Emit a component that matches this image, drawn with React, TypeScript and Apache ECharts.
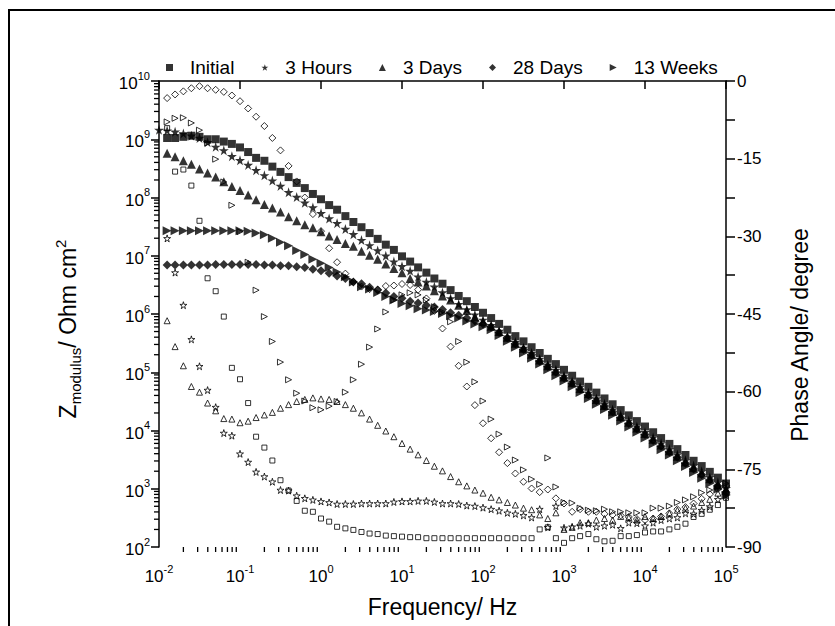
import React, { useEffect, useRef } from "react";
import * as echarts from "echarts";

// Frequencies (Hz), 10 points per decade
const freq = [
  0.01, 0.0126, 0.0158, 0.02, 0.0251, 0.0316, 0.0398, 0.0501, 0.0631, 0.0794,
  0.1, 0.126, 0.158, 0.2, 0.251, 0.316, 0.398, 0.501, 0.631, 0.794,
  1, 1.26, 1.58, 2, 2.51, 3.16, 3.98, 5.01, 6.31, 7.94,
  10, 12.6, 15.8, 20, 25.1, 31.6, 39.8, 50.1, 63.1, 79.4,
  100, 126, 158, 200, 251, 316, 398, 501, 631, 794,
  1000, 1260, 1580, 2000, 2510, 3160, 3980, 5010, 6310, 7940,
  10000, 12600, 15800, 20000, 25100, 31600, 39800, 50100, 63100, 79400, 100000,
];

const legendNames = ["Initial", "3 Hours", "3 Days", "28 Days", "13 Weeks"];

// |Z| (Ohm cm2)
const zInitial = [
  null, 1.05e9, 1.05e9, 1.1e9, 1.15e9, 1.1e9, 1.0e9, 1.0e9, 9.12e8, 8.32e8,
  7.24e8, 6.03e8, 4.79e8, 4.27e8, 3.39e8, 2.75e8, 2.24e8, 1.78e8, 1.45e8, 1.15e8,
  9.33e7, 7.41e7, 6.17e7, 4.79e7, 3.8e7, 3.09e7, 2.45e7, 1.95e7, 1.55e7, 1.26e7,
  9.77e6, 7.94e6, 6.31e6, 5.13e6, 4.07e6, 3.31e6, 2.57e6, 2.04e6, 1.66e6, 1.32e6,
  1.05e6, 8.51e5, 6.76e5, 5.37e5, 4.17e5, 3.39e5, 2.69e5, 2.14e5, 1.7e5, 1.38e5,
  1.1e5, 8.71e4, 6.92e4, 5.62e4, 4.47e4, 3.55e4, 2.82e4, 2.24e4, 1.82e4, 1.45e4,
  1.17e4, 9.33e3, 7.41e3, 5.89e3, 4.79e3, 3.8e3, 3.02e3, 2.45e3, 1.95e3, 1.55e3, 1.23e3,
];
const z3Hours = [
  1.45e9, 1.41e9, 1.35e9, 1.26e9, 1.15e9, 1.05e9, 8.91e8, 7.41e8, 6.46e8, 5.13e8,
  4.37e8, 3.63e8, 2.95e8, 2.4e8, 1.95e8, 1.58e8, 1.23e8, 1.02e8, 8.13e7, 6.76e7,
  5.37e7, 4.37e7, 3.63e7, 2.88e7, 2.34e7, 1.86e7, 1.51e7, 1.23e7, 1.0e7, 7.94e6,
  6.61e6, 5.5e6, 4.37e6, 3.55e6, 2.95e6, 2.34e6, 1.86e6, 1.48e6, 1.2e6, 9.77e5,
  7.94e5, 6.46e5, 5.13e5, 4.07e5, 3.31e5, 2.63e5, 2.14e5, 1.7e5, 1.35e5, 1.1e5,
  8.71e4, 6.92e4, 5.62e4, 4.47e4, 3.55e4, 2.88e4, 2.29e4, 1.86e4, 1.48e4, 1.17e4,
  9.33e3, 7.59e3, 6.03e3, 4.79e3, 3.89e3, 3.09e3, 2.51e3, 2.0e3, 1.58e3, 1.29e3, 1.02e3,
];
const z3Days = [
  null, 5.75e8, 5.01e8, 4.27e8, 3.72e8, 3.09e8, 2.63e8, 2.24e8, 1.86e8, 1.55e8,
  1.32e8, 1.1e8, 9.12e7, 7.59e7, 6.61e7, 5.62e7, 4.68e7, 3.98e7, 3.39e7, 3.02e7,
  2.57e7, 2.19e7, 1.91e7, 1.62e7, 1.45e7, 1.2e7, 1.02e7, 8.71e6, 7.24e6, 6.03e6,
  5.13e6, 4.07e6, 3.55e6, 3.02e6, 2.51e6, 2.04e6, 1.74e6, 1.41e6, 1.15e6, 8.91e5,
  7.41e5, 6.17e5, 5.01e5, 3.98e5, 3.16e5, 2.57e5, 2.04e5, 1.62e5, 1.29e5, 1.05e5,
  8.32e4, 6.61e4, 5.25e4, 4.27e4, 3.39e4, 2.69e4, 2.14e4, 1.74e4, 1.38e4, 1.1e4,
  8.91e3, 7.08e3, 5.62e3, 4.47e3, 3.63e3, 2.88e3, 2.29e3, 1.86e3, 1.48e3, 1.17e3, 9.55e2,
];
const z28Days = [
  null, 6.92e6, 6.92e6, 6.92e6, 6.92e6, 6.92e6, 6.92e6, 7.08e6, 7.08e6, 7.08e6,
  7.08e6, 7.08e6, 7.08e6, 6.92e6, 6.92e6, 6.76e6, 6.76e6, 6.46e6, 6.31e6, 5.89e6,
  5.5e6, 5.01e6, 4.47e6, 4.07e6, 3.55e6, 3.31e6, 2.88e6, 2.57e6, 2.29e6, 2.0e6,
  1.86e6, 1.66e6, 1.55e6, 1.41e6, 1.32e6, 1.2e6, 1.05e6, 9.55e5, 8.51e5, 7.59e5,
  6.76e5, 6.03e5, 4.79e5, 3.89e5, 3.09e5, 2.45e5, 2.0e5, 1.55e5, 1.26e5, 1.0e5,
  7.94e4, 6.46e4, 5.13e4, 4.07e4, 3.24e4, 2.63e4, 2.09e4, 1.66e4, 1.32e4, 1.07e4,
  8.51e3, 6.76e3, 5.37e3, 4.27e3, 3.47e3, 2.75e3, 2.19e3, 1.74e3, 1.41e3, 1.12e3, 8.71e2,
];
const z13Weeks = [
  null, 2.69e7, 2.69e7, 2.69e7, 2.69e7, 2.69e7, 2.69e7, 2.69e7, 2.69e7, 2.69e7,
  2.69e7, 2.63e7, 2.45e7, 2.29e7, 2.0e7, 1.7e7, 1.48e7, 1.23e7, 1.05e7, 8.71e6,
  7.41e6, 6.31e6, 5.25e6, 4.37e6, 3.55e6, 2.95e6, 2.69e6, 2.34e6, 2.0e6, 1.74e6,
  1.51e6, 1.38e6, 1.23e6, 1.17e6, 1.1e6, 1.02e6, 9.33e5, 8.51e5, 7.59e5, 6.76e5,
  6.03e5, 5.37e5, 4.27e5, 3.39e5, 2.69e5, 2.14e5, 1.74e5, 1.38e5, 1.1e5, 8.71e4,
  7.08e4, 5.62e4, 4.47e4, 3.55e4, 2.82e4, 2.29e4, 1.82e4, 1.45e4, 1.15e4, 9.33e3,
  7.41e3, 5.89e3, 4.68e3, 3.8e3, 3.02e3, 2.4e3, 1.91e3, 1.51e3, 1.23e3, 9.77e2, 7.76e2,
];

// Phase angle (degree)
const pInitial = [
  null, -9.1, -17.5, -17.1, -20.2, -27.0, -38.1, -40.6, -45.5, -55.4,
  -57.6, -62.2, -68.7, -70.8, -73.3, -77.1, -79.1, -81.1, -83.0, -83.2,
  -84.5, -85.1, -86.1, -86.4, -86.7, -87.1, -87.4, -87.5, -87.8, -87.9,
  -88.0, -88.1, -88.1, -88.3, -88.3, -88.3, -88.3, -88.3, -88.3, -88.3,
  -88.3, -88.3, -88.3, -88.3, -88.3, -88.3, -88.3, -86.6, -86.2, -88.3,
  -89.2, -88.3, -87.9, -87.5, -88.5, -88.9, -88.8, -87.9, -87.9, -87.7,
  -87.2, -87.0, -87.0, -86.6, -86.1, -85.5, -84.2, -83.6, -82.8, -81.9, -80.5,
];
const p3Hours = [
  null, -30.4, -37.0, -43.3, -49.9, -55.1, -59.7, -63.0, -68.0, -68.5,
  -72.0, -73.6, -75.5, -76.4, -77.4, -79.0, -79.1, -80.1, -80.6, -80.9,
  -81.2, -81.4, -81.7, -81.7, -81.7, -81.6, -81.6, -81.6, -81.6, -81.3,
  -81.2, -81.2, -81.1, -81.1, -81.3, -81.6, -81.6, -81.7, -82.0, -82.1,
  -82.4, -82.7, -83.0, -83.4, -83.6, -83.9, -84.3, -82.7, -86.2, -82.1,
  -86.3, -86.1, -85.9, -85.5, -86.1, -85.9, -85.7, -86.4, -85.3, -85.4,
  -85.9, -85.3, -84.8, -84.5, -84.3, -83.5, -83.6, -82.9, -82.2, -80.8, -80.0,
];
const p3Days = [
  null, -46.3, -51.3, -55.0, -59.0, -60.1, -62.2, -63.7, -65.2, -65.3,
  -66.0, -65.7, -65.0, -64.5, -64.0, -63.2, -62.5, -61.9, -61.5, -61.2,
  -61.4, -61.5, -61.9, -62.5, -63.2, -64.1, -65.3, -66.5, -67.6, -68.7,
  -70.0, -71.1, -72.2, -73.3, -74.4, -75.3, -76.4, -77.4, -78.2, -79.0,
  -79.6, -80.4, -80.9, -81.4, -81.9, -82.5, -82.8, -83.8, -84.5, -83.4,
  -86.6, -86.2, -85.3, -85.3, -84.8, -84.5, -84.8, -84.1, -84.3, -84.8,
  -84.1, -84.5, -84.1, -83.5, -82.9, -82.5, -82.1, -81.4, -80.8, -79.6, -78.7,
];
const p28Days = [
  null, -3.3, -2.6, -2.0, -1.4, -1.0, -1.4, -1.7, -2.1, -2.8,
  -3.9, -5.3, -6.9, -8.7, -11.0, -13.4, -16.4, -19.4, -22.5, -25.7,
  -29.0, -32.3, -35.0, -37.2, -38.8, -39.7, -40.2, -40.3, -39.6, -39.5,
  -39.2, -39.4, -40.3, -42.0, -44.4, -47.8, -51.3, -55.0, -59.0, -62.6,
  -66.1, -69.0, -71.7, -73.8, -75.8, -77.4, -78.7, -79.4, -78.9, -80.6,
  -81.6, -83.2, -82.7, -83.2, -83.2, -83.6, -83.8, -83.9, -84.2, -84.6,
  -84.8, -84.5, -84.1, -83.5, -82.7, -82.3, -81.6, -80.7, -79.8, -78.8, -78.2,
];
const p13Weeks = [
  null, -7.9, -7.2, -7.1, -8.1, -9.5, -12.0, -15.1, -19.5, -24.0,
  -29.1, -35.0, -40.4, -45.5, -50.3, -54.3, -57.7, -60.3, -61.8, -63.1,
  -63.5, -62.8, -61.9, -60.1, -57.7, -54.7, -51.4, -47.9, -44.6, -42.3,
  -41.3, -40.9, -41.3, -42.3, -43.6, -44.6, -46.5, -50.3, -54.3, -58.1,
  -61.8, -65.3, -68.2, -70.7, -73.2, -75.1, -76.9, -77.9, -72.8, -78.4,
  -81.4, -81.5, -82.5, -82.9, -83.0, -82.7, -83.2, -83.2, -83.4, -83.4,
  -83.4, -82.5, -82.5, -82.1, -81.4, -80.9, -80.3, -79.5, -79.0, -78.4, -77.7,
];

const FONT = "'Liberation Sans', Arial, sans-serif";
const STAR =
  "path://M50,0 L61,35 L98,35 L68,57 L79,91 L50,70 L21,91 L32,57 L2,35 L39,35 Z";
const RTRI = "path://M0,0 L10,5 L0,10 Z";

const symbols = ["rect", STAR, "triangle", "diamond", RTRI];
const filledSizes = [8, 10, 9, 9, 9];
const openSizes = [5, 7, 6, 7, 6];

const pairs = (ys: (number | null)[]) =>
  freq.map((f, i) => [f, ys[i]]).filter((d) => d[1] !== null);

export default function App() {
  const ref = useRef<HTMLDivElement>(null);
  useEffect(() => {
    if (!ref.current) return;
    const chart = echarts.init(ref.current, null, { renderer: "svg" });

    const mods = [zInitial, z3Hours, z3Days, z28Days, z13Weeks];
    const phases = [pInitial, p3Hours, p3Days, p28Days, p13Weeks];

    const xMinor: number[][] = [];
    for (let e = -2; e < 5; e++)
      for (let k = 2; k <= 9; k++) xMinor.push([k * Math.pow(10, e), 100]);
    const yMinor: number[][] = [];
    for (let e = 2; e < 10; e++)
      for (let k = 2; k <= 9; k++) yMinor.push([0.01, k * Math.pow(10, e)]);

    const supLabel = (v: number) => `{b|10}{s|${Math.round(Math.log10(v))}}`;
    const labelRich = {
      b: { fontSize: 17, fontFamily: FONT, color: "#000", lineHeight: 22, verticalAlign: "bottom" },
      s: { fontSize: 11, fontFamily: FONT, color: "#000", lineHeight: 13, verticalAlign: "top" },
    };
    const axisLineStyle = { color: "#000", width: 1.5 };
    const tickStyle = { color: "#000", width: 1.5 };

    const series: any[] = [];
    mods.forEach((m, k) => {
      series.push({
        name: legendNames[k],
        type: "scatter",
        xAxisIndex: 0,
        yAxisIndex: 0,
        symbol: symbols[k],
        symbolSize: filledSizes[k],
        itemStyle: { color: "#000" },
        data: pairs(m),
        z: 3,
      });
    });
    phases.forEach((p, k) => {
      series.push({
        name: legendNames[k] + " phase",
        type: "scatter",
        xAxisIndex: 0,
        yAxisIndex: 1,
        symbol: symbols[k],
        symbolSize: openSizes[k],
        itemStyle: { color: "rgba(255,255,255,0)", borderColor: "#000", borderWidth: 1 },
        data: pairs(p),
        z: 4,
      });
    });
    series.push({
      type: "custom",
      name: "xminor",
      silent: true,
      clip: false,
      xAxisIndex: 0,
      yAxisIndex: 0,
      data: xMinor,
      renderItem: (_p: any, api: any) => {
        const pt = api.coord([api.value(0), api.value(1)]);
        return {
          type: "line",
          shape: { x1: pt[0], y1: pt[1], x2: pt[0], y2: pt[1] + 5 },
          style: { stroke: "#000", lineWidth: 1.3 },
        };
      },
    });
    series.push({
      type: "custom",
      name: "yminor",
      silent: true,
      clip: false,
      xAxisIndex: 0,
      yAxisIndex: 0,
      data: yMinor,
      renderItem: (_p: any, api: any) => {
        const pt = api.coord([api.value(0), api.value(1)]);
        return {
          type: "line",
          shape: { x1: pt[0] - 5, y1: pt[1], x2: pt[0], y2: pt[1] },
          style: { stroke: "#000", lineWidth: 1.3 },
        };
      },
    });

    chart.setOption({
      animation: false,
      backgroundColor: "#fff",
      textStyle: { fontFamily: FONT, color: "#000" },
      grid: { left: 159, right: 109, top: 81, bottom: 79, containLabel: false },
      legend: {
        data: legendNames.map((n, k) => ({ name: n, icon: symbols[k] })),
        left: 161,
        top: 53,
        itemWidth: 7,
        itemHeight: 7,
        itemGap: 27,
        selectedMode: false,
        formatter: (n: string) => `{t|${n}}`,
        textStyle: {
          fontFamily: FONT,
          fontSize: 19,
          color: "#000",
          rich: { t: { fontFamily: FONT, fontSize: 19, color: "#000", padding: [0, 0, 0, 12] } },
        },
      },
      xAxis: {
        type: "log",
        logBase: 10,
        min: 0.01,
        max: 100000,
        splitNumber: 7,
        name: "Frequency/ Hz",
        nameLocation: "middle",
        nameGap: 48,
        nameTextStyle: { fontFamily: FONT, fontSize: 23, color: "#000" },
        axisLine: { show: true, lineStyle: axisLineStyle },
        axisTick: { show: true, inside: false, length: 8, lineStyle: tickStyle },
        axisLabel: { margin: 16, formatter: supLabel, rich: labelRich },
        splitLine: { show: false },
      },
      yAxis: [
        {
          type: "log",
          logBase: 10,
          min: 100,
          max: 1e10,
          splitNumber: 8,
          position: "left",
          name: "{z|Z}{sub|modulus}{t|/ Ohm cm}{sup|2}",
          nameLocation: "middle",
          nameRotate: 90,
          nameGap: 76,
          nameTextStyle: {
            padding: [0, 30, 0, 0],
            rich: {
              z: { fontFamily: FONT, fontSize: 23, color: "#000", lineHeight: 30, verticalAlign: "middle" },
              t: { fontFamily: FONT, fontSize: 23, color: "#000", lineHeight: 30, verticalAlign: "middle" },
              sub: { fontFamily: FONT, fontSize: 15, color: "#000", lineHeight: 16, verticalAlign: "bottom" },
              sup: { fontFamily: FONT, fontSize: 15, color: "#000", lineHeight: 16, verticalAlign: "top" },
            },
          },
          axisLine: { show: true, lineStyle: axisLineStyle },
          axisTick: { show: true, inside: false, length: 8, lineStyle: tickStyle },
          axisLabel: { margin: 9, formatter: supLabel, rich: labelRich },
          splitLine: { show: false },
        },
        {
          type: "value",
          min: -90,
          max: 0,
          interval: 15,
          position: "right",
          name: "Phase Angle/ degree",
          nameLocation: "middle",
          nameRotate: 90,
          nameGap: 62,
          nameTextStyle: { fontFamily: FONT, fontSize: 23, color: "#000", padding: [0, 42, 0, 0] },
          axisLine: { show: true, lineStyle: axisLineStyle },
          axisTick: { show: true, inside: false, length: 9, lineStyle: tickStyle },
          minorTick: { show: true, splitNumber: 2, length: 9, lineStyle: tickStyle },
          axisLabel: { margin: 11, fontFamily: FONT, fontSize: 17, color: "#000" },
          splitLine: { show: false },
        },
      ],
      graphic: [
        {
          type: "rect",
          silent: true,
          z: -1,
          shape: { x: 9, y: 10, width: 840, height: 640 },
          style: { fill: "none", stroke: "#000", lineWidth: 2 },
        },
      ],
      series,
    });
    return () => chart.dispose();
  }, []);
  return (
    <div
      ref={ref}
      style={{ position: "absolute", left: 0, top: 0, width: 835, height: 626 }}
    />
  );
}
